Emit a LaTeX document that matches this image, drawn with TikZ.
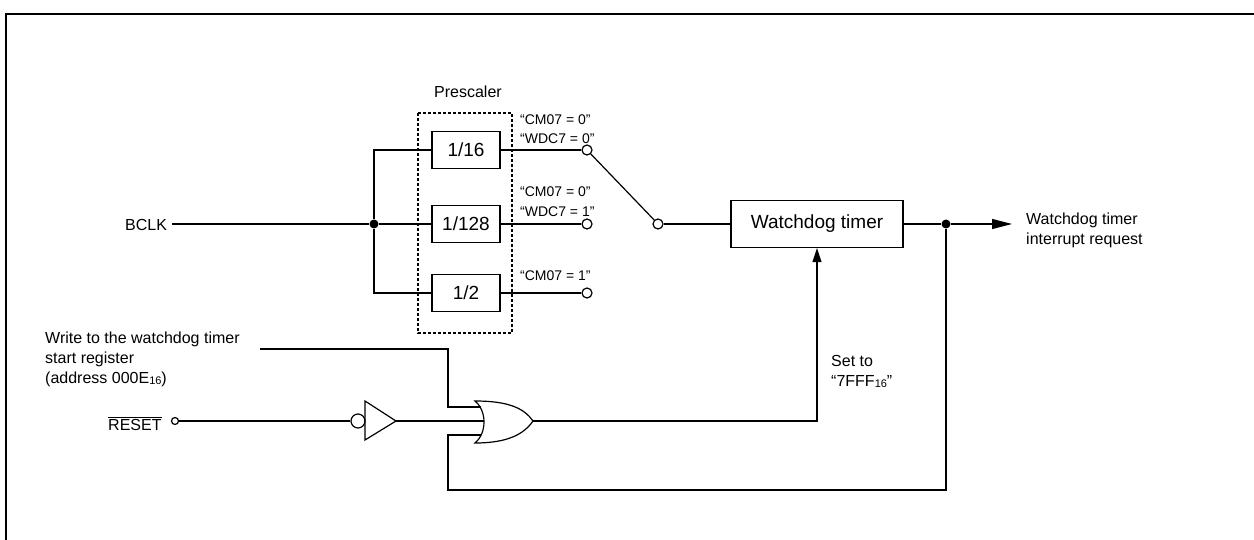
\documentclass[tikz,border=0pt]{standalone}
\usepackage{fontspec}
\setmainfont{Liberation Sans}
\usetikzlibrary{arrows.meta}
\newcommand{\sub}[1]{{\fontsize{11}{11}\selectfont\raisebox{-1pt}{#1}}}
\begin{document}
\begin{tikzpicture}[x=1pt,y=-1pt,
  wire/.style={line width=1.2pt},
  lbl/.style={font=\fontsize{16}{20}\selectfont, inner sep=0pt, anchor=base west, align=left},
  slbl/.style={font=\fontsize{14}{16}\selectfont, inner sep=0pt, anchor=base west},
  divbox/.style={draw, line width=1.2pt, minimum width=68pt, minimum height=37pt, inner sep=0pt, font=\fontsize{19}{22}\selectfont},
  term/.style={circle, draw, line width=1.2pt, fill=white, minimum size=10pt, inner sep=0pt},
  dotn/.style={circle, fill=black, minimum size=9pt, inner sep=0pt},
  bigarrow/.style={-{Triangle[length=20pt,width=10pt]}},
  uparrow/.style={-{Triangle[length=14pt,width=9pt]}}
]
\useasboundingbox (0,0) rectangle (1254,540);
% frame
\draw[line width=2.3pt] (6,540) -- (6,14) -- (1254,14);

% prescaler
\node[lbl] (presc) at (434,98) {Prescaler};
\draw[line width=1.2pt, dash pattern=on 3pt off 2pt] (418,113) rectangle (512,333);
\node[divbox] (d16) at (466,150) {1/16};
\node[divbox] (d128) at (466,224) {1/128};
\node[divbox] (d2) at (466,293) {1/2};

\node[lbl] (bclk) at (125,231) {BCLK};
\node[dotn] (dot1) at (374,224) {};
\coordinate (bclkstart) at (172,224);
\draw[wire] (bclkstart) -- (dot1);
\draw[wire] (dot1) |- (d16.west);
\draw[wire] (dot1) -- (d128.west);
\draw[wire] (dot1) |- (d2.west);

% terminals
\node[term] (t16) at (587,150) {};
\node[term] (t128) at (587,224) {};
\node[term] (t2) at (587,293) {};
\draw[wire] (d16.east) -- (t16);
\draw[wire] (d128.east) -- (t128);
\draw[wire] (d2.east) -- (t2);

\node[slbl] (l1a) at (520,125) {“CM07 = 0”};
\node[slbl] (l1b) at (520,144) {“WDC7 = 0”};
\node[slbl] (l2a) at (520,197) {“CM07 = 0”};
\node[slbl] (l2b) at (520,217) {“WDC7 = 1”};
\node[slbl] (l3a) at (520,281) {“CM07 = 1”};

% switch
\node[term] (sw) at (658,224) {};
\draw[wire] (t16) -- (sw);

% watchdog timer
\node[divbox, minimum width=172pt, minimum height=47pt] (wd) at (817,224) {Watchdog timer};
\draw[wire] (sw) -- (wd.west);
\node[dotn] (dot2) at (946,224) {};
\coordinate (outend) at (1012,224);
\draw[wire] (wd.east) -- (dot2);
\draw[wire, bigarrow] (dot2) -- (outend);
\node[lbl] (outlbl) at (1026,245) {Watchdog timer\\interrupt request};

% write text
\node[lbl] (wr) at (45,383) {Write to the watchdog timer\\start register\\(address 000E\sub{16})};

% reset
\node[lbl] (rst) at (108,430) {$\overline{\mbox{RESET}}$};
\node[circle, draw, line width=1.2pt, minimum size=7pt, inner sep=0pt] (rc) at (175,421) {};
\node[circle, draw, line width=1.2pt, minimum size=14pt, inner sep=0pt] (bub) at (358,421) {};
\draw[line width=1.2pt] (365,401) -- (365,440) -- (396,421) -- cycle;
\coordinate (invout) at (396,421);
\draw[wire] (rc) -- (bub);

% OR gate
\draw[line width=1.2pt] (475,401) .. controls (508,401) and (524,408) .. (533,421)
  .. controls (524,434) and (508,443) .. (475,443)
  .. controls (487,433) and (487,411) .. (475,401) -- cycle;
\coordinate (orA) at (481,407);
\coordinate (orB) at (484,421);
\coordinate (orC) at (481,435);
\coordinate (orY) at (533,421);
\draw[wire] (invout) -- (orB);

\coordinate (wstart) at (260,349);
\coordinate (wbend) at (448,407);
\draw[wire] (wstart) -| (wbend) -- (orA);

\coordinate (fbbot) at (448,490);
\coordinate (fbup) at (448,435);
\draw[wire] (dot2) |- (fbbot) -- (fbup) -- (orC);

\draw[wire, uparrow] (orY) -| (wd.south);
\node[lbl] (setto) at (831,386) {Set to\\“7FFF\sub{16}”};
\end{tikzpicture}
\end{document}
